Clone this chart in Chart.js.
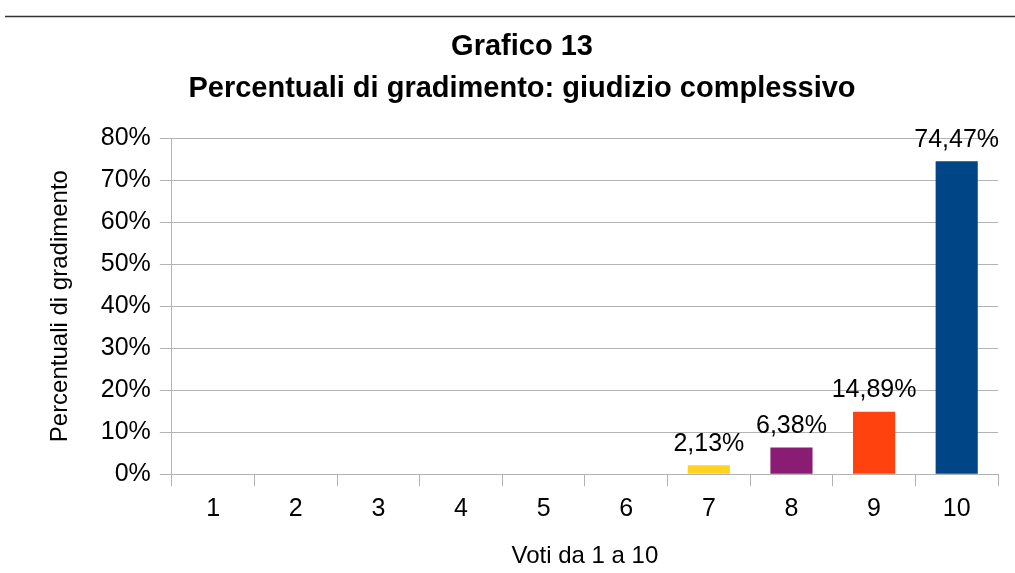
<!DOCTYPE html>
<html>
<head>
<meta charset="utf-8">
<script src="https://cdn.jsdelivr.net/npm/chart.js@4"></script>
<style>
  html, body { margin: 0; padding: 0; background: #fff; }
  #wrap { position: relative; width: 1015px; height: 573px; }
</style>
</head>
<body>
<div id="wrap"><canvas id="grafico"></canvas></div>
<script>
// dati del grafico
var voti = ['1', '2', '3', '4', '5', '6', '7', '8', '9', '10'];
var percentuali = [0, 0, 0, 0, 0, 0, 2.13, 6.38, 14.89, 74.47];
var colori = ['#004586', '#004586', '#004586', '#004586', '#004586', '#004586',
              '#ffd320', '#8b1c74', '#ff420e', '#004586'];
var yTicks = [0, 10, 20, 30, 40, 50, 60, 70, 80];

var font = "'Liberation Sans', Arial, sans-serif";

// linea orizzontale in alto
var lineaTop = {
  id: 'lineaTop',
  beforeDraw: function (chart) {
    var c = chart.ctx;
    c.save();
    c.strokeStyle = '#333';
    c.lineWidth = 1.5;
    c.beginPath();
    c.moveTo(5, 16.5);
    c.lineTo(chart.width, 16.5);
    c.stroke();
    c.restore();
  }
};

// etichette sopra le barre
var etichette = {
  id: 'etichette',
  afterDatasetsDraw: function (chart) {
    var c = chart.ctx;
    var meta = chart.getDatasetMeta(0);
    c.save();
    c.font = '25px ' + font;
    c.fillStyle = '#000';
    c.textAlign = 'center';
    c.textBaseline = 'bottom';
    meta.data.forEach(function (bar, i) {
      var v = percentuali[i];
      if (!v) return;
      c.fillText(v.toFixed(2).replace('.', ',') + '%', bar.x, bar.y - 9);
    });
    c.restore();
  }
};

var ctx = document.getElementById('grafico').getContext('2d');
var chart = new Chart(ctx, {
  type: 'bar',
  data: {
    labels: voti,
    datasets: [{
      data: percentuali,
      backgroundColor: colori,
      borderWidth: 0,
      barPercentage: 0.51,
      categoryPercentage: 1
    }]
  },
  plugins: [lineaTop, etichette],
  options: {
    responsive: true,
    maintainAspectRatio: false,
    animation: false,
    layout: { padding: { top: 0, right: 17, bottom: 2, left: 46 } },
    plugins: {
      legend: { display: false },
      tooltip: { enabled: false },
      title: {
        display: true,
        text: ['Grafico 13', 'Percentuali di gradimento: giudizio complessivo'],
        color: '#000',
        font: { family: font, size: 29, weight: 'bold', lineHeight: 1.45 },
        padding: { top: 26, bottom: 28 }
      }
    },
    scales: {
      x: {
        grid: {
          offset: true,
          drawOnChartArea: false,
          drawTicks: true,
          tickLength: 12,
          color: '#b3b3b3'
        },
        border: { color: '#b3b3b3' },
        ticks: { color: '#000', font: { family: font, size: 25 }, padding: 8 },
        title: {
          display: true,
          text: 'Voti da 1 a 10',
          color: '#000',
          font: { family: font, size: 24 },
          padding: { top: 10, bottom: 0 }
        }
      },
      y: {
        min: 0,
        max: 80,
        afterBuildTicks: function (axis) {
          axis.ticks = yTicks.map(function (v) { return { value: v }; });
        },
        grid: { color: '#b3b3b3', tickLength: 12 },
        border: { color: '#b3b3b3' },
        ticks: {
          color: '#000',
          font: { family: font, size: 25 },
          padding: 9,
          callback: function (v) { return v + '%'; }
        },
        title: {
          display: true,
          text: 'Percentuali di gradimento',
          color: '#000',
          font: { family: font, size: 24 },
          padding: { top: 0, bottom: 17 }
        }
      }
    }
  }
});
</script>
</body>
</html>
